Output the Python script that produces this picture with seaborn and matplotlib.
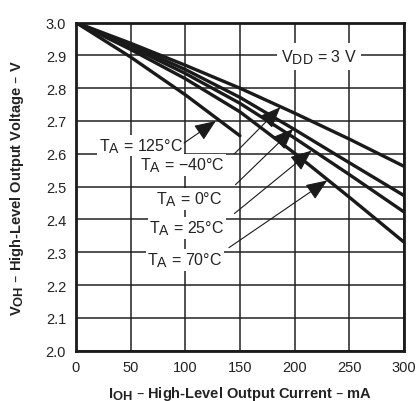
import matplotlib
matplotlib.use("Agg")
import matplotlib.pyplot as plt
import matplotlib._mathtext as _mt
import seaborn as sns
import pandas as pd

# Data
current_ma = [0, 50, 100, 150, 200, 250, 300]
voh_m40 = [3.0, 2.937, 2.870, 2.800, 2.724, 2.645, 2.562]
voh_0 = [3.0, 2.932, 2.857, 2.772, 2.674, 2.573, 2.473]
voh_25 = [3.0, 2.926, 2.845, 2.754, 2.648, 2.537, 2.423]
voh_70 = [3.0, 2.918, 2.829, 2.728, 2.602, 2.468, 2.331]
current_125 = [0, 50, 100, 150]
voh_125 = [3.0, 2.895, 2.780, 2.655]

x_ticks = [0, 50, 100, 150, 200, 250, 300]
y_ticks = [2.0, 2.1, 2.2, 2.3, 2.4, 2.5, 2.6, 2.7, 2.8, 2.9, 3.0]

labels = ["T$_A$ = 125°C", "T$_A$ = \u221240°C", "T$_A$ = 0°C", "T$_A$ = 25°C", "T$_A$ = 70°C"]
label_pos = [(59.5, 2.625), (97, 2.566), (104, 2.462), (101.5, 2.374), (99.7, 2.277)]
arrow_tail = [(99, 2.633), (145, 2.600), (146, 2.506), (145, 2.418), (140, 2.314)]
arrow_tip = [(128, 2.700), (187, 2.742), (198.8, 2.676), (215.6, 2.610), (229.9, 2.519)]

sns.set_theme(style="white")
plt.rcParams['font.family'] = ['Liberation Sans', 'DejaVu Sans']
plt.rcParams['mathtext.default'] = 'regular'
_mt.SHRINK_FACTOR = 0.88

rows = []
for t, xs, ys in [("-40", current_ma, voh_m40), ("0", current_ma, voh_0),
                  ("25", current_ma, voh_25), ("70", current_ma, voh_70),
                  ("125", current_125, voh_125)]:
    for x, y in zip(xs, ys):
        rows.append({"I": x, "V": y, "T": t})
df = pd.DataFrame(rows)

fig = plt.figure(figsize=(4.19, 4.02), dpi=100)
ax = fig.add_axes([0.181, 0.125, 0.783, 0.8165])

sns.lineplot(data=df, x="I", y="V", hue="T", palette=["#1a1a1a"] * 5,
             linewidth=2.4, legend=False, ax=ax, zorder=3)

ax.set_xlim(0, 300)
ax.set_ylim(2.0, 3.0)
ax.set_xticks(x_ticks)
ax.set_yticks(y_ticks)
ax.set_xticklabels([str(v) for v in x_ticks])
ax.set_yticklabels([f"{v:.1f}" for v in y_ticks])
ax.grid(True, color="#222222", linewidth=1.1, zorder=0)
ax.set_axisbelow(True)
for s in ax.spines.values():
    s.set_linewidth(2.0)
    s.set_color("#1a1a1a")
ax.tick_params(axis="both", length=0, labelsize=10.5, colors="#222222", pad=7)

ax.set_xlabel("I$_{OH}$ \u2013 High-Level Output Current \u2013 mA",
              fontsize=10.5, fontweight="bold", color="#222222", labelpad=7)
ax.set_ylabel("V$_{OH}$ \u2013 High-Level Output Voltage \u2013 V",
              fontsize=10.5, fontweight="bold", color="#222222", labelpad=14)

bbox = dict(facecolor="white", edgecolor="none", pad=1.0)
ax.text(222, 2.895, "V$_{DD}$ = 3 V", fontsize=11.5, ha="center", va="center",
        color="#222222", bbox=dict(facecolor="white", edgecolor="none", pad=3), zorder=4)

for lab, (lx, ly), tail, tip in zip(labels, label_pos, arrow_tail, arrow_tip):
    ax.text(lx, ly, lab, fontsize=11.5, ha="center", va="center", color="#222222",
            bbox=bbox, zorder=4)
    ax.annotate("", xy=tip, xytext=tail,
                arrowprops=dict(arrowstyle="-|>,head_length=1.1,head_width=0.45",
                                color="#1a1a1a", linewidth=0.8, shrinkA=0, shrinkB=0),
                zorder=5)

fig.savefig("out.png", dpi=100)
